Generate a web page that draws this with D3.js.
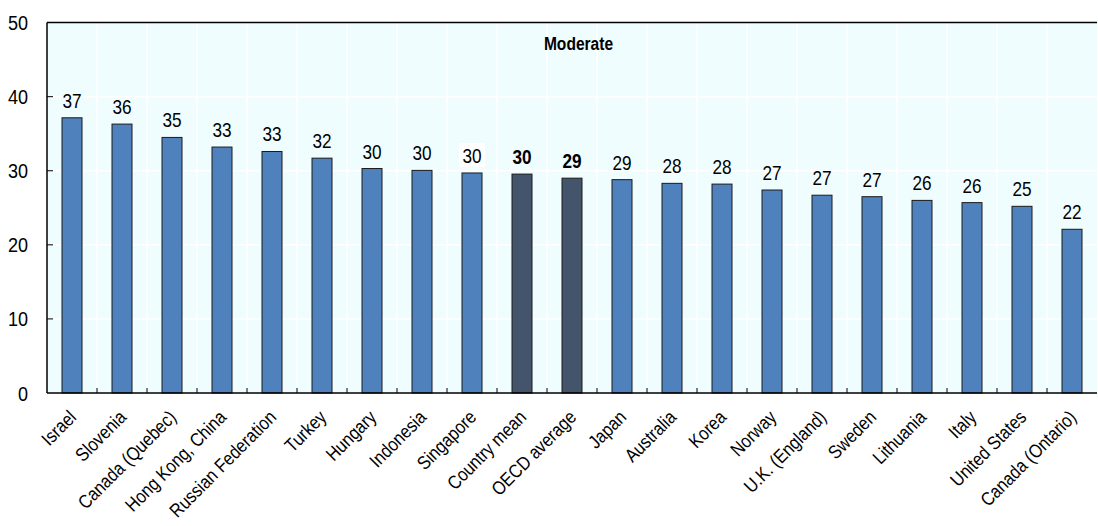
<!DOCTYPE html>
<html><head><meta charset="utf-8">
<script src="https://cdn.jsdelivr.net/npm/d3@7"></script>
<style>body{margin:0;background:#fff}</style>
</head><body>
<svg id="c" width="1098" height="526"></svg>
<script>
const categories = ["Israel","Slovenia","Canada (Quebec)","Hong Kong, China","Russian Federation","Turkey","Hungary","Indonesia","Singapore","Country mean","OECD average","Japan","Australia","Korea","Norway","U.K. (England)","Sweden","Lithuania","Italy","United States","Canada (Ontario)"];
const values = [37.15,36.3,34.5,33.2,32.6,31.7,30.3,30.05,29.7,29.55,29.0,28.8,28.3,28.2,27.4,26.7,26.5,26.0,25.7,25.2,22.1];
const highlighted = ["Country mean","OECD average"];
const yTicks = [0,10,20,30,40,50];
const title = "Moderate";

const svg = d3.select("#c");
const m = {l:47, r:1097, t:22.6, b:393};
const x = d3.scaleBand().domain(categories).range([m.l, m.r]).paddingInner(0.6).paddingOuter(0.3);
const xb = d3.scaleBand().domain(categories).range([m.l, m.r]);
const y = d3.scaleLinear().domain([0,50]).range([m.b, m.t]);
const font = "'Liberation Sans',Arial,sans-serif";
const SX = 0.86;

svg.append("rect").attr("x",m.l).attr("y",m.t).attr("width",m.r-m.l).attr("height",m.b-m.t).attr("fill","#f0fdff");
// grid
svg.append("g").selectAll("line").data(yTicks.slice(1,-1)).join("line")
  .attr("x1",m.l).attr("x2",m.r).attr("y1",d=>y(d)).attr("y2",d=>y(d)).attr("stroke","#fff").attr("stroke-width",1.5);
svg.append("g").selectAll("line").data(categories.slice(1)).join("line")
  .attr("x1",d=>xb(d)).attr("x2",d=>xb(d)).attr("y1",m.t).attr("y2",m.b).attr("stroke","#fff").attr("stroke-width",1.5);

// bars
svg.append("g").selectAll("rect").data(categories).join("rect")
  .attr("x",d=>x(d)).attr("width",x.bandwidth())
  .attr("y",(d,i)=>y(values[i])).attr("height",(d,i)=>y(0)-y(values[i]))
  .attr("fill",d=>highlighted.includes(d)?"#44546a":"#4f81bd")
  .attr("stroke","#1a1a1a").attr("stroke-width",1);

// value labels
const lab = svg.append("g");
categories.forEach((c,i)=>{
  const cx = x(c)+x.bandwidth()/2, ty = y(values[i])-10;
  if(c==="Singapore"){
    lab.append("rect").attr("x",cx-13).attr("y",ty-20).attr("width",26).attr("height",24).attr("fill","#fff");
  }
  lab.append("text").attr("transform",`translate(${cx},${ty}) scale(${SX},1)`).attr("text-anchor","middle")
    .attr("font-family",font).attr("font-size",20)
    .attr("font-weight",highlighted.includes(c)?"bold":"normal")
    .attr("fill","#000").text(Math.round(values[i]));
});

// axes frame
svg.append("line").attr("x1",m.l).attr("x2",m.r).attr("y1",m.t).attr("y2",m.t).attr("stroke","#000").attr("stroke-width",1.5);
svg.append("line").attr("x1",m.l).attr("x2",m.l).attr("y1",m.t).attr("y2",m.b).attr("stroke","#000").attr("stroke-width",1.5);
svg.append("line").attr("x1",m.l).attr("x2",m.r).attr("y1",m.b).attr("y2",m.b).attr("stroke","#000").attr("stroke-width",1.5);

// y axis ticks (inside) and labels
svg.append("g").selectAll("line").data(yTicks.slice(1,-1)).join("line")
  .attr("x1",m.l).attr("x2",m.l+6).attr("y1",d=>y(d)).attr("y2",d=>y(d)).attr("stroke","#000");
svg.append("g").selectAll("text").data(yTicks).join("text")
  .attr("transform",d=>`translate(28,${y(d)}) scale(${SX},1)`)
  .attr("text-anchor","end").attr("dy","0.36em")
  .attr("font-family",font).attr("font-size",21).attr("fill","#000").text(d=>d);

// bottom ticks (inside, at category boundaries)
svg.append("g").selectAll("line").data(categories.slice(1)).join("line")
  .attr("x1",d=>xb(d)).attr("x2",d=>xb(d)).attr("y1",m.b).attr("y2",m.b-5).attr("stroke","#000");

// category labels
svg.append("g").selectAll("text").data(categories).join("text")
  .attr("transform",d=>`translate(${xb(d)+xb.bandwidth()/2-4},${m.b+16}) rotate(-45) scale(${SX},1)`)
  .attr("text-anchor","end").attr("dy","0.7em")
  .attr("font-family",font).attr("font-size",19).attr("fill","#000")
  .text(d=>d);

svg.append("text").attr("transform",`translate(578.5,50) scale(0.82,1)`).attr("text-anchor","middle")
  .attr("font-family",font).attr("font-weight","bold").attr("font-size",19).text(title);
</script>
</body></html>
